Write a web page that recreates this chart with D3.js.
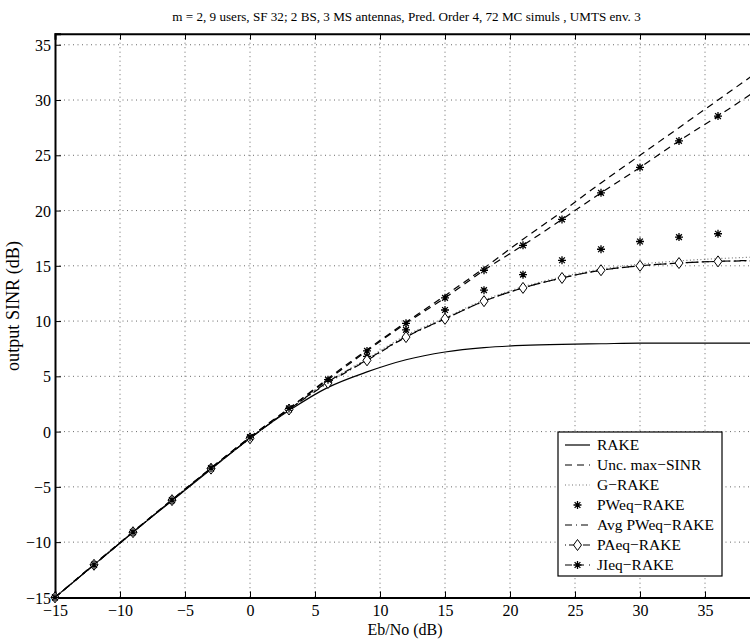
<!DOCTYPE html>
<html><head><meta charset="utf-8">
<script src="https://cdn.jsdelivr.net/npm/d3@7"></script>
<style>
html,body{margin:0;padding:0;background:#fff;overflow:hidden;}
svg text{font-family:'Liberation Serif','Times New Roman',serif;fill:#000;}
</style></head>
<body><svg id="chart" width="750" height="642"></svg>
<script>
const title = "m = 2, 9 users, SF 32; 2 BS, 3 MS antennas, Pred. Order 4, 72 MC simuls , UMTS env. 3";
const xLabel = "Eb/No (dB)";
const yLabel = "output SINR (dB)";
const xTicks = [-15,-10,-5,0,5,10,15,20,25,30,35];
const yTicks = [-15,-10,-5,0,5,10,15,20,25,30,35];
const ebno = [-15,-12,-9,-6,-3,0,3,6,9,12,15,18,21,24,27,30,33,36,39];
const rake  = [-15,-12.05,-9.1,-6.25,-3.4,-0.6,1.9,4.0,5.4,6.5,7.2,7.6,7.8,7.9,7.95,8.0,8.0,8.0,8.0];
const unc   = [-15,-12,-9.05,-6.15,-3.3,-0.5,2.1,4.8,7.4,9.9,12.3,14.8,17.4,19.9,22.5,25.0,27.5,30.0,32.5];
const grake = [-15,-12.05,-9.1,-6.2,-3.35,-0.6,2.0,4.5,6.6,8.7,10.3,11.9,13.1,14.0,14.7,15.15,15.45,15.65,15.8];
const pweq  = [-15,-12.05,-9.1,-6.2,-3.35,-0.55,2.0,4.5,6.8,9.2,11.0,12.8,14.2,15.5,16.5,17.2,17.6,17.9];
const avgpw = [-15,-12.05,-9.1,-6.2,-3.35,-0.6,2.0,4.5,6.5,8.6,10.2,11.8,13.0,13.9,14.6,15.0,15.25,15.4,15.5];
const paeq  = [-15,-12.05,-9.1,-6.2,-3.35,-0.6,2.0,4.4,6.45,8.55,10.2,11.8,13.0,13.9,14.6,15.0,15.25,15.4,15.45];
const jieq  = [-15,-12.05,-9.1,-6.2,-3.3,-0.5,2.1,4.7,7.3,9.8,12.1,14.6,16.85,19.2,21.6,23.9,26.3,28.55,30.9];
const legendNames = ["RAKE","Unc. max\u2212SINR","G\u2212RAKE","PWeq\u2212RAKE","Avg PWeq\u2212RAKE","PAeq\u2212RAKE","JIeq\u2212RAKE"];

const FONT = "'Liberation Serif', 'Times New Roman', serif";
const svg = d3.select("#chart");
const L = 55, R = 757, T = 33.7, B = 597.4;
const x = d3.scaleLinear().domain([-15,39]).range([L,R]);
const y = d3.scaleLinear().domain([-15,36]).range([B,T]);

svg.append("defs").append("clipPath").attr("id","clip").append("rect")
  .attr("x",L).attr("y",T).attr("width",R-L).attr("height",B-T);

// fit a text element to a target width by adjusting font size
function fit(t, target){
  const fs = parseFloat(t.style("font-size"));
  const w = t.node().getComputedTextLength();
  if(w>0) t.style("font-size", (fs*target/w).toFixed(2)+"px");
  return t;
}

// grid
const grid = svg.append("g");
xTicks.forEach(t=>{ if(t>-15) grid.append("line").attr("x1",x(t)).attr("x2",x(t)).attr("y1",T).attr("y2",B)
  .attr("stroke","#444").attr("stroke-width",0.8).attr("stroke-dasharray","1,3.5");});
yTicks.forEach(t=>{ if(t>-15) grid.append("line").attr("x1",L).attr("x2",R).attr("y1",y(t)).attr("y2",y(t))
  .attr("stroke","#444").attr("stroke-width",0.8).attr("stroke-dasharray","1,3.5");});

// axes
const fmt = d=>d<0?"\u2212"+Math.abs(d):d;
const xa = svg.append("g").attr("transform",`translate(0,${B})`)
  .call(d3.axisBottom(x).tickValues(xTicks).tickSize(-6).tickPadding(10).tickFormat(fmt));
const xt = svg.append("g").attr("transform",`translate(0,${T})`)
  .call(d3.axisTop(x).tickValues(xTicks).tickSize(-6).tickFormat(""));
const ya = svg.append("g").attr("transform",`translate(${L},0)`)
  .call(d3.axisLeft(y).tickValues(yTicks).tickSize(-6).tickPadding(4).tickFormat(fmt));
[xa,xt,ya].forEach(g=>{
  g.attr("font-family",null).attr("font-size",null);
  g.select(".domain").attr("stroke","#000").attr("stroke-width",2);
  g.selectAll(".tick line").attr("stroke","#000").attr("stroke-width",1);
  g.selectAll("text").style("font-family",FONT).style("font-size","16px");
});
xa.selectAll("text").attr("dy","0.55em");
ya.selectAll("text").attr("dy","0.35em");

const plot = svg.append("g").attr("clip-path","url(#clip)");
const line = arr => d3.line().x((d,i)=>x(ebno[i])).y(d=>y(d)).curve(d3.curveMonotoneX)(arr);

function star(g, cx, cy, s){
  const r=s/2, q=r*0.72;
  g.append("path").attr("d",`M${cx-r},${cy}L${cx+r},${cy}M${cx},${cy-r}L${cx},${cy+r}M${cx-q},${cy-q}L${cx+q},${cy+q}M${cx-q},${cy+q}L${cx+q},${cy-q}`)
   .attr("stroke","#000").attr("stroke-width",1.3).attr("fill","none");
}
function diamond(g, cx, cy){
  g.append("path").attr("d",`M${cx},${cy-5.5}L${cx+4},${cy}L${cx},${cy+5.5}L${cx-4},${cy}Z`)
   .attr("stroke","#000").attr("stroke-width",1).attr("fill","#fff");
}

plot.append("path").attr("d",line(rake)).attr("fill","none").attr("stroke","#000").attr("stroke-width",1.2);
plot.append("path").attr("d",line(unc)).attr("fill","none").attr("stroke","#000").attr("stroke-width",1.2).attr("stroke-dasharray","7,5");
plot.append("path").attr("d",line(grake)).attr("fill","none").attr("stroke","#777").attr("stroke-width",1.2).attr("stroke-dasharray","1,2.5");
plot.append("path").attr("d",line(avgpw)).attr("fill","none").attr("stroke","#000").attr("stroke-width",1.2).attr("stroke-dasharray","7,4,1,4");
plot.append("path").attr("d",line(paeq)).attr("fill","none").attr("stroke","#000").attr("stroke-width",1.2).attr("stroke-dasharray","7,4,1,4").attr("stroke-dashoffset",6);
plot.append("path").attr("d",line(jieq)).attr("fill","none").attr("stroke","#000").attr("stroke-width",1.2).attr("stroke-dasharray","7,5");

const mk = svg.append("g");
pweq.forEach((v,i)=>star(mk, x(ebno[i]), y(v), 8));
paeq.forEach((v,i)=>{ if(ebno[i]<=36) diamond(mk, x(ebno[i]), y(v)); });
jieq.forEach((v,i)=>{ if(ebno[i]<=36) star(mk, x(ebno[i]), y(v), 8); });

fit(svg.append("text").attr("x",406.5).attr("y",21).attr("text-anchor","middle").style("font-family",FONT).style("font-size","12px").text(title), 469);
fit(svg.append("text").attr("x",405).attr("y",635).attr("text-anchor","middle").style("font-family",FONT).style("font-size","16px").text(xLabel), 75);
fit(svg.append("text").attr("transform","translate(19,306) rotate(-90)").attr("text-anchor","middle").style("font-family",FONT).style("font-size","16px").text(yLabel), 130);

const lg = svg.append("g");
lg.append("rect").attr("x",558).attr("y",432).attr("width",164).attr("height",144)
  .attr("fill","#fff").attr("stroke","#000").attr("stroke-width",1.2);
const styles = [
  {dash:null,color:"#000"},{dash:"7,5",color:"#000"},{dash:"1,2.5",color:"#777"},
  {dash:"none",color:"none",m:"star"},{dash:"7,4,1,4",color:"#000"},
  {dash:"1,3,7,3",color:"#000",m:"diamond"},{dash:"7,5",color:"#000",m:"star"}];
legendNames.forEach((n,i)=>{
  const cy = 445 + i*20;
  const s = styles[i];
  if(s.color!=="none"){
    const l = lg.append("line").attr("x1",565).attr("x2",590).attr("y1",cy).attr("y2",cy)
      .attr("stroke",s.color).attr("stroke-width",1.2);
    if(s.dash) l.attr("stroke-dasharray",s.dash);
  }
  if(s.m==="star") star(lg,577.5,cy,8);
  if(s.m==="diamond") diamond(lg,577.5,cy);
  lg.append("text").attr("x",597).attr("y",cy).attr("dy","0.35em").style("font-family",FONT).style("font-size","15.5px").text(n);
});
</script></body></html>
